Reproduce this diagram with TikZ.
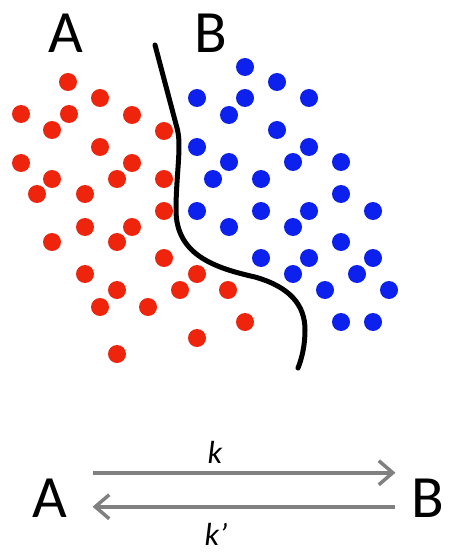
\documentclass[tikz,border=0pt]{standalone}
\usepackage{fontspec}
\setmainfont{Carlito}
\usetikzlibrary{arrows.meta}
\definecolor{dotred}{RGB}{238,36,12}
\definecolor{dotblue}{RGB}{12,32,238}
\definecolor{rategray}{RGB}{128,128,128}
\tikzset{
  big/.style={font=\fontsize{60}{60}\selectfont, inner sep=0pt, anchor=base},
  ratelab/.style={font=\fontsize{32}{32}\selectfont\itshape, inner sep=0pt, anchor=base},
  rate/.style={draw=rategray, line width=3.5pt, -{Straight Barb[length=14pt,width=24pt]}},
  boundary/.style={line width=5pt, line cap=round}
}
\begin{document}
\begin{tikzpicture}[x=1pt,y=-1pt]
  \useasboundingbox (0,0) rectangle (448,553);
  % species A (red) and B (blue)
  \foreach \x/\y in {68/82, 100/98, 21/114, 69/114, 132/115, 52/130, 164/131, 100/147, 21/163, 132/163,
                     52/179, 117/179, 164/179, 37/194, 85/194, 164/211, 85/227, 132/227, 52/242, 117/242,
                     164/258, 85/274, 197/274, 117/290, 180/290, 228/290, 100/307, 148/307, 245/322, 197/338, 117/354}
    \fill[dotred] (\x,\y) circle[radius=9pt];
  \foreach \x/\y in {245/67, 277/82, 197/98, 245/98, 309/98, 229/115, 277/130, 197/147, 309/147, 229/162,
                     293/162, 341/162, 213/179, 261/179, 341/194, 197/211, 261/211, 309/211, 373/211, 229/227,
                     293/227, 341/242, 261/258, 309/258, 373/258, 293/274, 357/274, 325/290, 389/290, 341/322, 373/322}
    \fill[dotblue] (\x,\y) circle[radius=9pt];
  % dividing line
  \draw[boundary] (155,45) -- (177,128) .. controls (182,145) and (176,175) .. (176,210)
    .. controls (176,255) and (215,268) .. (255,277)
    .. controls (290,287) and (305,305) .. (305,330)
    .. controls (305,345) and (302,358) .. (298,368);
  \node[big] (topA) at (66,53) {A};
  \node[big] (topB) at (211,53) {B};
  % reaction
  \node[big] (A) at (50,517) {A};
  \node[big] (B) at (428,517) {B};
  \draw[rate, shorten <=25pt, shorten >=16pt] ([yshift=25pt]A.east) -- ([yshift=25pt]B.west);
  \draw[rate, shorten <=16pt, shorten >=25pt] ([yshift=-9pt]B.west) -- ([yshift=-9pt]A.east);
  \node[ratelab] (k) at (215,463) {k};
  \node[ratelab] (kp) at (216,545) {k’};
\end{tikzpicture}
\end{document}
